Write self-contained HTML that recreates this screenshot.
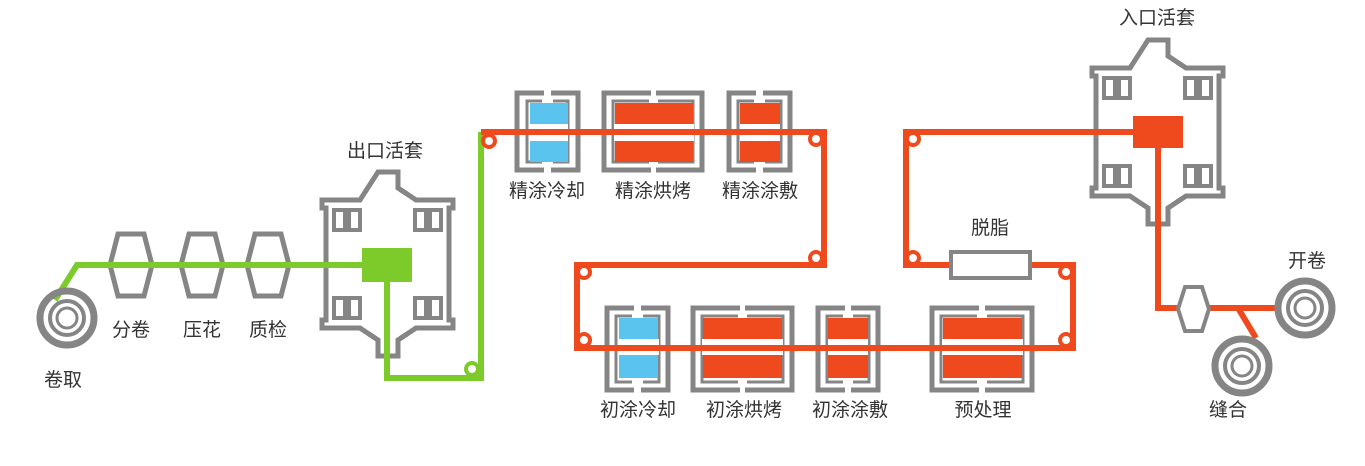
<!DOCTYPE html>
<html><head><meta charset="utf-8"><style>
body{margin:0;background:#fff;}
svg text{font-family:"Liberation Sans","Noto Sans CJK SC",sans-serif;font-size:19px;fill:#333;text-anchor:middle;}
</style></head><body>
<svg width="1365" height="461" viewBox="0 0 1365 461" xmlns="http://www.w3.org/2000/svg">
<defs>
<g id="loop" fill="none" stroke="#858585" stroke-width="5">
<polygon points="58,0 78,0 78,16 96,28 133,28 133,36 129,36 129,148 133,148 133,156 96,156 78,168 78,184 58,184 58,168 40,156 2,156 2,148 6,148 6,36 2,36 2,28 40,28"/>
<rect x="14" y="38" width="11" height="20" stroke-width="4"/><rect x="29" y="38" width="11" height="20" stroke-width="4"/>
<rect x="95" y="38" width="11" height="20" stroke-width="4"/><rect x="110" y="38" width="11" height="20" stroke-width="4"/>
<rect x="14" y="126" width="11" height="20" stroke-width="4"/><rect x="29" y="126" width="11" height="20" stroke-width="4"/>
<rect x="95" y="126" width="11" height="20" stroke-width="4"/><rect x="110" y="126" width="11" height="20" stroke-width="4"/>
</g>
<g id="hex"><polygon points="10,2 36,2 44,33 36,64 10,64 2,33" fill="#fff" stroke="#858585" stroke-width="5"/></g>
<g id="roll" fill="none" stroke="#858585"><circle r="27" stroke-width="7"/><circle r="17" stroke-width="4"/><circle r="10" stroke-width="3"/></g>
<g id="node"><circle r="8" fill="#ee4a1e"/><circle r="4" fill="#fff"/></g>
</defs>

<use href="#loop" x="320" y="172"/>
<use href="#loop" x="1090" y="40"/>

<use href="#hex" x="108" y="232"/>
<use href="#hex" x="179" y="232"/>
<use href="#hex" x="245" y="232"/>

<g fill="none" stroke="#7ccb2b" stroke-width="6">
<polyline points="55,300 77,265 365,265"/>
<polyline points="387,280 387,378 481,378 481,132"/>
</g>
<rect x="362" y="248" width="50" height="34" fill="#7ccb2b"/>
<circle cx="472" cy="369" r="8" fill="#7ccb2b"/><circle cx="472" cy="369" r="4" fill="#fff"/>

<g fill="none" stroke="#858585">
<path d="M544,93 H517 V170 H544 M551,93 H578 V170 H551" stroke-width="5"/>
<path d="M542,101 H527 V162 H542 M553,101 H568 V162 H553" stroke-width="3"/>
<path d="M651,93 H604 V170 H651 M656,93 H702 V170 H656" stroke-width="5"/>
<path d="M649,101 H613 V162 H649 M658,101 H693 V162 H658" stroke-width="3"/>
<path d="M756,93 H729 V170 H756 M763,93 H790 V170 H763" stroke-width="5"/>
<path d="M754,101 H738 V162 H754 M765,101 H781 V162 H765" stroke-width="3"/>
<path d="M634,308 H607 V390 H634 M641,308 H668 V390 H641" stroke-width="5"/>
<path d="M632,316 H616 V382 H632 M643,316 H659 V382 H643" stroke-width="3"/>
<path d="M740,308 H693 V390 H740 M745,308 H792 V390 H745" stroke-width="5"/>
<path d="M738,316 H702 V382 H738 M747,316 H783 V382 H747" stroke-width="3"/>
<path d="M845,308 H818 V390 H845 M851,308 H878 V390 H851" stroke-width="5"/>
<path d="M843,316 H827 V382 H843 M853,316 H869 V382 H853" stroke-width="3"/>
<path d="M979,308 H932 V390 H979 M985,308 H1032 V390 H985" stroke-width="5"/>
<path d="M977,316 H941 V382 H977 M987,316 H1023 V382 H987" stroke-width="3"/>
</g>
<rect x="530" y="103" width="38" height="59" fill="#5bc4ee"/>
<rect x="615" y="103" width="78" height="59" fill="#ee4a1e"/>
<rect x="740" y="103" width="40" height="59" fill="#ee4a1e"/>
<rect x="619" y="318" width="39" height="60" fill="#5bc4ee"/>
<rect x="703" y="318" width="79" height="60" fill="#ee4a1e"/>
<rect x="828" y="318" width="40" height="60" fill="#ee4a1e"/>
<rect x="943" y="318" width="79" height="60" fill="#ee4a1e"/>
<g fill="#fff">
<rect x="530" y="124" width="38" height="17"/><rect x="614" y="124" width="80" height="17"/><rect x="740" y="124" width="40" height="17"/>
<rect x="618" y="339" width="41" height="16"/><rect x="702" y="339" width="81" height="16"/><rect x="828" y="339" width="40" height="16"/><rect x="942" y="339" width="81" height="16"/>
</g>

<g fill="none" stroke="#ee4a1e" stroke-width="6">
<polyline points="481,132 824,132 824,265 577,265 577,348 1073,348 1073,265 1030,265"/>
<polyline points="951,265 906,265 906,132 1140,132"/>
<polyline points="1158,140 1158,308 1280,308"/>
<line x1="1238" y1="308" x2="1256" y2="338"/>
</g>
<rect x="1133" y="116" width="50" height="32" fill="#ee4a1e"/>
<rect x="951" y="252" width="79" height="26" fill="#fff" stroke="#858585" stroke-width="4"/>
<use href="#node" x="489" y="141"/>
<use href="#node" x="816" y="139"/>
<use href="#node" x="816" y="258"/>
<use href="#node" x="584" y="272"/>
<use href="#node" x="584" y="340"/>
<use href="#node" x="1066" y="272"/>
<use href="#node" x="1066" y="340"/>
<use href="#node" x="913" y="258"/>
<use href="#node" x="913" y="139"/>

<polygon points="1185,287 1202,287 1209,309 1202,331 1185,331 1178,309" fill="#fff" stroke="#858585" stroke-width="4"/>

<use href="#roll" x="67" y="318"/>
<use href="#roll" x="1305" y="308"/>
<use href="#roll" x="1242" y="366"/>

<text x="385" y="157">出口活套</text>
<text x="1157" y="24">入口活套</text>
<text x="131" y="336">分卷</text>
<text x="202" y="336">压花</text>
<text x="268" y="336">质检</text>
<text x="63" y="386">卷取</text>
<text x="547" y="197">精涂冷却</text>
<text x="653" y="197">精涂烘烤</text>
<text x="760" y="197">精涂涂敷</text>
<text x="638" y="416">初涂冷却</text>
<text x="744" y="416">初涂烘烤</text>
<text x="850" y="416">初涂涂敷</text>
<text x="983" y="416">预处理</text>
<text x="990" y="234">脱脂</text>
<text x="1307" y="267">开卷</text>
<text x="1228" y="416">缝合</text>
</svg>
</body></html>
